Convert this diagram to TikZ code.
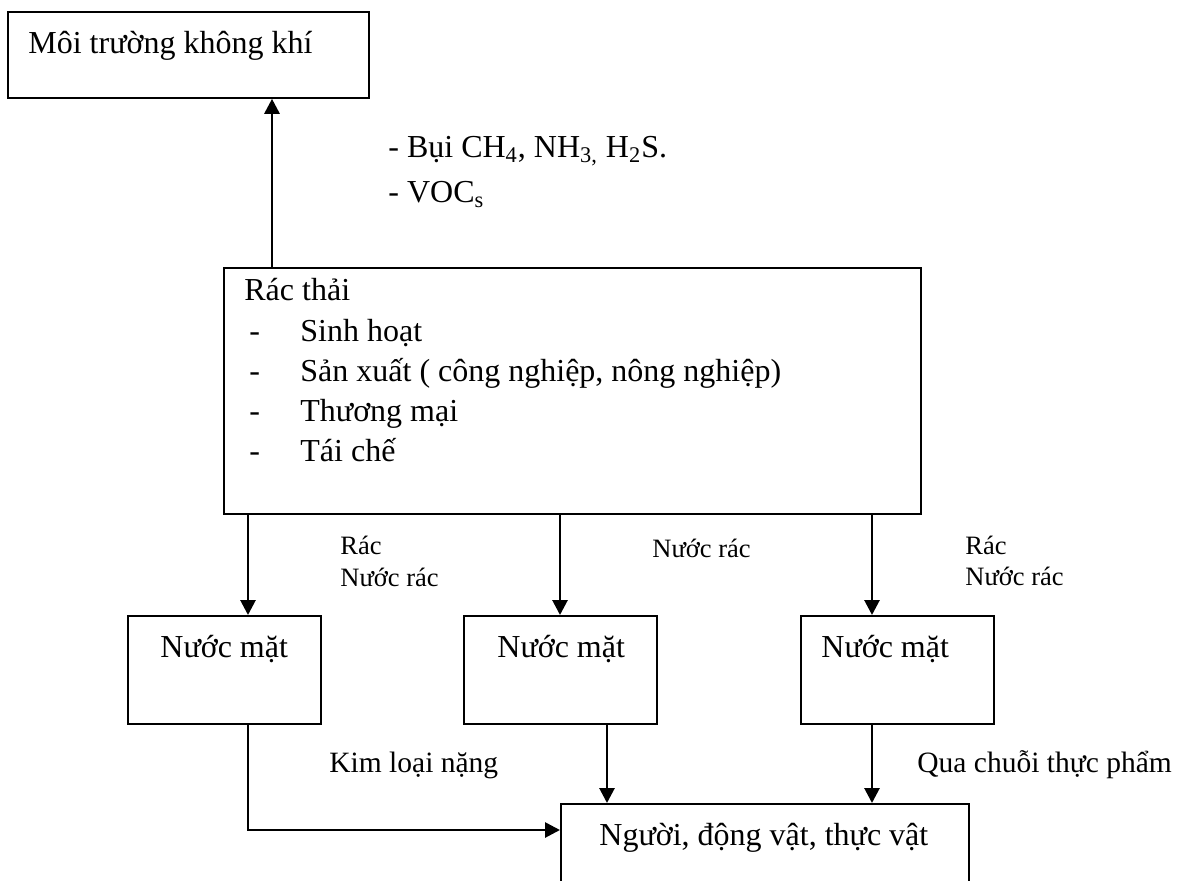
\documentclass[tikz,border=0pt]{standalone}
\usepackage{fontspec}
\setmainfont{Liberation Serif}
\usetikzlibrary{arrows.meta}
\begin{document}
\begin{tikzpicture}[x=0.5pt,y=-0.5pt,
  box/.style={draw, line width=0.9pt, rectangle, inner sep=0pt, anchor=north west},
  arr/.style={line width=1.4pt, -{Triangle[length=7.5pt,width=7.5pt]}},
  txt/.style={anchor=base west, inner sep=0pt, font=\fontsize{16pt}{19pt}\selectfont},
  lbl/.style={anchor=base west, inner sep=0pt, font=\fontsize{13.25pt}{16pt}\selectfont},
  lbltwo/.style={anchor=base west, inner sep=0pt, font=\fontsize{14.75pt}{18pt}\selectfont}]
\useasboundingbox (0,0) rectangle (1179,880);
\clip (0,0) rectangle (1179,880);

% boxes
\node[box, minimum width=180.5pt, minimum height=43pt]  (air)   at (7,11)   {};
\node[box, minimum width=348.5pt, minimum height=123pt] (waste) at (223,267) {};
\node[box, minimum width=96.5pt,  minimum height=54pt]  (wa)    at (127,615) {};
\node[box, minimum width=96.5pt,  minimum height=54pt]  (wb)    at (463,615) {};
\node[box, minimum width=96.5pt,  minimum height=54pt]  (wc)    at (800,615) {};
\node[box, minimum width=204pt,   minimum height=64pt]  (life)  at (560,803) {};

% box texts
\node[txt] (tair) at (28,53) {Môi trường không khí};
\node[txt] (tw0) at (244,300) {Rác thải};
\foreach \y/\s [count=\i] in {341/Sinh hoạt, 381/{Sản xuất ( công nghiệp, nông nghiệp)}, 421/Thương mại, 461/Tái chế}{
  \node[txt] (dash\i) at (249,\y) {-};
  \node[txt] (item\i) at (300,\y) {\s};
}
\node[txt] (twa) at (160,657) {Nước mặt};
\node[txt] (twb) at (497,657) {Nước mặt};
\node[txt] (twc) at (821,657) {Nước mặt};
\node[txt] (tlife) at (599,845) {Người, động vật, thực vật};

% connector columns and row
\coordinate (cA) at (272,0);
\coordinate (cL) at (248,0);
\coordinate (cM) at (560,0);
\coordinate (cN) at (607,0);
\coordinate (cR) at (872,0);
\coordinate (rK) at (0,830);

% connectors
\draw[arr] (waste.north -| cA) -- (air.south -| cA);
\draw[arr] (waste.south -| cL) -- (wa.north -| cL);
\draw[arr] (waste.south -| cM) -- (wb.north -| cM);
\draw[arr] (waste.south -| cR) -- (wc.north -| cR);
\draw[arr] (wa.south -| cL) |- (life.west |- rK);
\draw[arr] (wb.south -| cN) -- (life.north -| cN);
\draw[arr] (wc.south -| cR) -- (life.north -| cR);

% connector labels
\node[txt] (g1) at (388,157) {- Bụi CH\textsubscript{4}, NH\textsubscript{3,} H\textsubscript{2}S.};
\node[txt] (g2) at (388,202) {- VOC\textsubscript{s}};
\node[lbl] (la1) at (340,554) {Rác};
\node[lbl] (la2) at (340,586) {Nước rác};
\node[lbl] (lb1) at (652,557) {Nước rác};
\node[lbl] (lc1) at (965,554) {Rác};
\node[lbl] (lc2) at (965,585) {Nước rác};
\node[lbltwo] (lk) at (329,772) {Kim loại nặng};
\node[lbltwo] (lq) at (917,772) {Qua chuỗi thực phẩm};
\end{tikzpicture}
\end{document}
